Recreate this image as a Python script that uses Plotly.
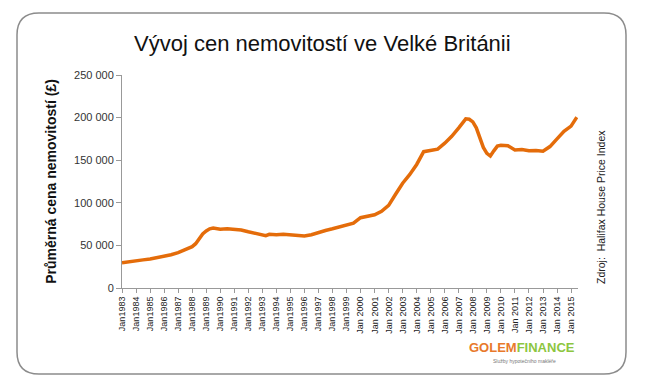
import plotly.graph_objects as go

dates = ["1983-01", "1983-07", "1984-01", "1984-07", "1985-01", "1985-07", "1986-01", "1986-07",
         "1987-01", "1987-07", "1988-01", "1988-04", "1988-07", "1988-10", "1989-01", "1989-04",
         "1989-07", "1989-10", "1990-01", "1990-07", "1991-01", "1991-07", "1992-01", "1992-07",
         "1993-01", "1993-04", "1993-07", "1994-01", "1994-07", "1995-01", "1995-07", "1996-01",
         "1996-07", "1997-01", "1997-07", "1998-01", "1998-07", "1999-01", "1999-07", "2000-01",
         "2000-07", "2001-01", "2001-07", "2002-01", "2002-07", "2003-01", "2003-07", "2004-01",
         "2004-07", "2005-01", "2005-07", "2006-01", "2006-07", "2007-01", "2007-07", "2007-10",
         "2008-01", "2008-04", "2008-07", "2008-10", "2009-01", "2009-04", "2009-07", "2009-10",
         "2010-01", "2010-07", "2011-01", "2011-07", "2012-01", "2012-07", "2013-01", "2013-07",
         "2014-01", "2014-07", "2015-01", "2015-06"]
prices = [29500, 31000, 31800, 33000, 34000, 35500, 36500, 39000,
          41500, 44500, 48500, 52000, 57500, 63500, 67000, 69500,
          70500, 69800, 69000, 69500, 68800, 68000, 66000, 64500,
          62000, 61500, 63000, 62500, 63200, 62500, 61500, 61000,
          62500, 65500, 67500, 69500, 71500, 73500, 76000, 82500,
          84500, 86000, 90000, 97000, 110000, 123000, 133000, 145000,
          160000, 161500, 163000, 170000, 178000, 188000, 198500, 198000,
          195000, 188000, 176000, 165000, 158000, 155000, 161000, 166500,
          167500, 167000, 162000, 162500, 161000, 161500, 160500, 166000,
          175000, 184000, 190000, 200500]

years = list(range(1983, 2016))
tick_vals = [f"{y}-01-01" for y in years]
tick_text = [f"Jan{y}" if y < 2000 else f"Jan {y}" for y in years]
y_vals = [0, 50000, 100000, 150000, 200000, 250000]
y_text = ["0", "50 000", "100 000", "150 000", "200 000", "250 000"]

OFF = 8  # page body margin
W, H = 646 - OFF, 392 - OFF
L, R, T, B = 122 - OFF, 578 - OFF, 75 - OFF, 288 - OFF


def px(x):
    return (x - OFF - L) / (R - L)


def py(y):
    return (B - (y - OFF)) / (B - T)


fig = go.Figure()
fig.add_trace(go.Scatter(x=dates, y=prices, mode="lines",
                         line=dict(color="#E46C0A", width=3.5), hoverinfo="skip"))

font = "Liberation Sans, Arial, sans-serif"
fig.update_layout(
    width=W, height=H,
    margin=dict(l=L, r=W - R, t=T, b=H - B),
    paper_bgcolor="white", plot_bgcolor="white",
    showlegend=False,
    font=dict(family=font, color="#222"),
    xaxis=dict(type="date", range=["1983-01-01", "2015-07-01"],
               tickvals=tick_vals, ticktext=tick_text, tickangle=-90,
               tickfont=dict(size=9, color="#222"),
               showgrid=False, zeroline=False,
               showline=True, linecolor="#999", linewidth=1,
               ticks="outside", ticklen=4, tickcolor="#999"),
    yaxis=dict(range=[0, 250000], tickvals=y_vals, ticktext=y_text,
               tickfont=dict(size=11, color="#333"),
               showgrid=False, zeroline=False,
               showline=True, linecolor="#999", linewidth=1,
               ticks="outside", ticklen=5, tickcolor="#999",
               title=dict(text="<b>Průměrná cena nemovitostí (£)</b>",
                          font=dict(size=14, color="#111"), standoff=14)),
)

# rounded border
x0, x1, y0, y1 = px(17), px(626), py(374), py(13)
rx, ry = 22 / (R - L), 22 / (B - T)
path = (f"M {x0+rx},{y1} L {x1-rx},{y1} Q {x1},{y1} {x1},{y1-ry} "
        f"L {x1},{y0+ry} Q {x1},{y0} {x1-rx},{y0} L {x0+rx},{y0} "
        f"Q {x0},{y0} {x0},{y0+ry} L {x0},{y1-ry} Q {x0},{y1} {x0+rx},{y1} Z")
fig.add_shape(type="path", path=path, xref="paper", yref="paper",
              line=dict(color="#8c8c8c", width=1.5), fillcolor="rgba(0,0,0,0)", layer="below")

fig.add_annotation(text="Vývoj cen nemovitostí ve Velké Británii", xref="paper", yref="paper",
                   x=px(322), y=py(43), showarrow=False, xanchor="center", yanchor="middle",
                   font=dict(size=22, color="#111", family=font))
fig.add_annotation(text="Zdroj:  Halifax House Price Index", xref="paper", yref="paper",
                   x=px(601), y=py(207), showarrow=False, textangle=-90,
                   xanchor="center", yanchor="middle",
                   font=dict(size=10.5, color="#222", family=font))
fig.add_annotation(text="<b><span style='color:#E8792B'>GOLEM</span><span style='color:#8DC63F'>FINANCE</span></b>",
                   xref="paper", yref="paper", x=px(522), y=py(347), showarrow=False,
                   xanchor="center", yanchor="middle",
                   font=dict(size=13, family=font))
fig.add_annotation(text="Služby hypotečního makléře", xref="paper", yref="paper",
                   x=px(524), y=py(361), showarrow=False, xanchor="center", yanchor="middle",
                   font=dict(size=5, color="#777", family=font))

fig.write_html("out.html")
